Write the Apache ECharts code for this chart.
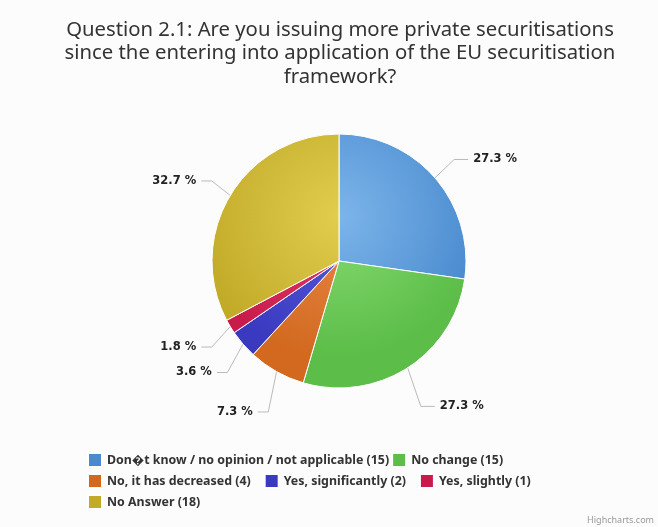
<!DOCTYPE html>
<html>
<head>
<meta charset="utf-8">
<script src="https://cdn.jsdelivr.net/npm/echarts@6/dist/echarts.min.js"></script>
<style>
  html, body { margin: 0; padding: 0; background: #fcfcfc; }
  #chart { width: 658px; height: 527px; }
</style>
</head>
<body>
<div id="chart"></div>
<script>
// Survey answers, Question 2.1
const titleLines = [
  'Question 2.1: Are you issuing more private securitisations',
  'since the entering into application of the EU securitisation',
  'framework?'
];
const categories = [
  'Don\uFFFDt know / no opinion / not applicable',
  'No change',
  'No, it has decreased',
  'Yes, significantly',
  'Yes, slightly',
  'No Answer'
];
const counts = [15, 15, 4, 2, 1, 18];
const baseColors = ['#4a8bcf', '#5cbd48', '#d2691f', '#3a3ac0', '#c91b4b', '#c2ab29'];
const lightColors = ['#7db5ea', '#86db72', '#e8894a', '#5a5ade', '#e0416c', '#e2cd4d'];

const chart = echarts.init(document.getElementById('chart'), null, { renderer: 'canvas' });

const cx = 339, cy = 261, r = 127;

function shade(i) {
  return {
    type: 'radial', x: cx, y: cy - 45, r: 190, global: true,
    colorStops: [
      { offset: 0, color: lightColors[i] },
      { offset: 0.75, color: baseColors[i] }
    ]
  };
}

const pieData = categories.map((name, i) => ({
  name: name,
  value: counts[i],
  itemStyle: { color: shade(i) }
}));

const legendText = {
  fontFamily: 'Noto Sans', fontWeight: 'bold', fontSize: 12.4, color: '#333'
};
const legendBase = {
  orient: 'horizontal', itemWidth: 14, itemHeight: 14, icon: 'rect',
  padding: 0,
  textStyle: legendText,
  formatter: function (name) {
    return name + ' (' + counts[categories.indexOf(name)] + ')';
  }
};

chart.setOption({
  backgroundColor: '#fcfcfc',
  animation: false,
  color: baseColors,
  title: {
    text: titleLines.join('\n'),
    left: 335, top: 13,
    textAlign: 'center',
    textStyle: { fontFamily: 'Noto Sans', fontWeight: 'normal', fontSize: 20.3, color: '#333', lineHeight: 23.5, align: 'center' }
  },
  legend: [
    Object.assign({}, legendBase, { left: 87, top: 452, itemGap: 2, data: categories.slice(0, 2) }),
    Object.assign({}, legendBase, { left: 87, top: 473, itemGap: 13, data: categories.slice(2, 5) }),
    Object.assign({}, legendBase, { left: 87, top: 494, data: categories.slice(5) })
  ],
  graphic: [{
    type: 'text', right: 4, bottom: 2,
    style: { text: 'Highcharts.com', fill: '#999', font: '9px "Noto Sans"' }
  }],
  series: [{
    type: 'pie',
    center: [cx, cy],
    radius: r,
    startAngle: 90,
    clockwise: true,
    percentPrecision: 1,
    data: pieData,
    itemStyle: { borderColor: '#ffffff', borderWidth: 1 },
    label: {
      show: true,
      formatter: '{d} %',
      fontFamily: 'DejaVu Sans', fontWeight: 'bold', fontSize: 11.5, color: '#222'
    },
    labelLine: {
      show: true, length: 28, length2: 16,
      lineStyle: { color: '#bbb', width: 1 }
    },
    // pull labels in toward the pie horizontally and spread the lower ones
    // downward; the connector's bend and end follow the label
    labelLayout: function (p) {
      const midX = p.labelRect.x + p.labelRect.width / 2;
      const midY = p.labelRect.y + p.labelRect.height / 2;
      const dx = midX < cx ? 11 : -4;
      const dy = Math.round(Math.max(0, midY - cy - 50) * 0.19);
      const pts = p.labelLinePoints;
      const out = { dx: dx, dy: dy };
      if (pts && pts.length === 3) {
        out.labelLinePoints = [
          pts[0].slice(),
          [pts[1][0] + dx * 0.5, pts[1][1] + dy],
          [pts[2][0] + dx, pts[2][1] + dy]
        ];
      }
      return out;
    }
  }]
});
</script>
</body>
</html>
